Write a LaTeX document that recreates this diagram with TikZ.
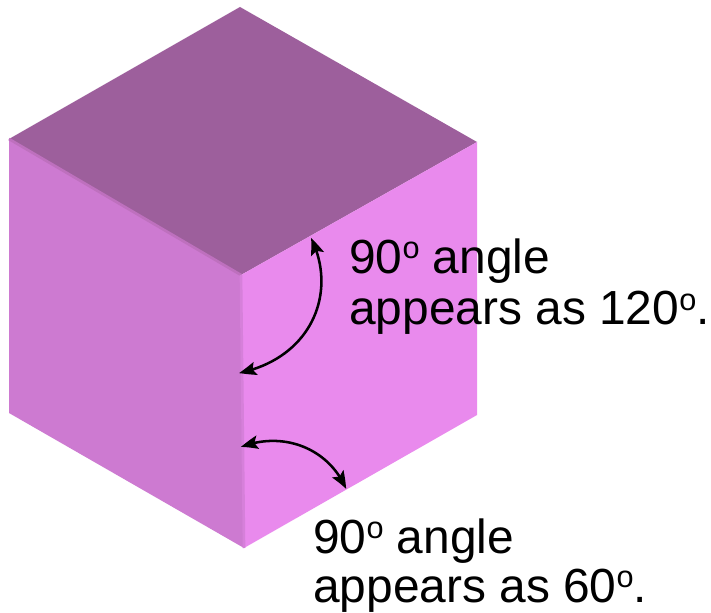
\documentclass[tikz,border=0pt]{standalone}
\usepackage{fontspec}
\setmainfont{Liberation Sans}
\usetikzlibrary{arrows.meta,bending}
\definecolor{topface}{RGB}{157,95,156}
\definecolor{leftface}{RGB}{205,122,209}
\definecolor{rightface}{RGB}{233,138,237}
\definecolor{edgeone}{RGB}{190,112,190}
\definecolor{edgetwo}{RGB}{214,128,218}
\tikzset{
  px/.style={x=0.75pt,y=-0.75pt},
  lab/.style={anchor=base west,inner sep=0pt,font=\fontsize{35.9}{36}\selectfont,text=black},
  arcline/.style={draw=black,line width=1.9pt,{Stealth[length=13pt,width=10pt,inset=2.5pt,bend]}-{Stealth[length=13pt,width=10pt,inset=2.5pt,bend]}},
}
\newcommand{\dg}{\raisebox{0.31em}{\fontsize{23}{23}\selectfont o}}
\begin{document}
\begin{tikzpicture}[px]
\useasboundingbox (0,0) rectangle (711,613);
\fill[white] (0,0) rectangle (711,613);
\coordinate (T) at (240,7);
\coordinate (L) at (9,139);
\coordinate (R) at (477,142);
\coordinate (C) at (241,275);
\coordinate (BL) at (9,413);
\coordinate (BR) at (477,415);
\coordinate (B) at (244,548);
\fill[topface] (T)--(L)--(C)--(R)--cycle;
\fill[leftface] (L)--(C)--(B)--(BL)--cycle;
\fill[rightface] (C)--(R)--(BR)--(B)--cycle;
\draw[edgeone,line width=2pt] (L)--(C);
\draw[edgetwo,line width=2pt] (C)--(B);
\coordinate (a1) at (311,238);
\coordinate (a2) at (239,373);
\coordinate (b1) at (241,447);
\coordinate (b2) at (346,489);
\draw[arcline] (a1) .. controls (338,292) and (312,358) .. (a2);
\draw[arcline] (b1) .. controls (285,430) and (330,450) .. (b2);
\node[lab] (t1) at (349,273.5) {90\dg{} angle};
\node[lab] (t2) at (349,325) {appears as 120\dg.};
\node[lab] (t3) at (313,553) {90\dg{} angle};
\node[lab] (t4) at (313,602.5) {appears as 60\dg.};
\end{tikzpicture}
\end{document}
